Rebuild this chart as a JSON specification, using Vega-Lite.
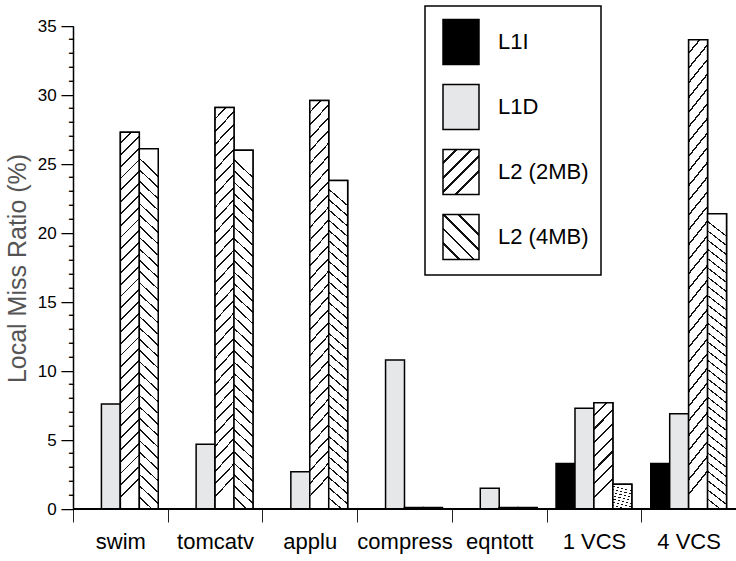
{
  "$schema": "https://vega.github.io/schema/vega-lite/v6.json",
  "width": 663,
  "height": 483,
  "autosize": {"type": "none"},
  "padding": {"left": 73, "top": 26, "right": 0, "bottom": 52},
  "background": "white",
  "config": {"view": {"stroke": null}, "font": "Liberation Sans"},
  "data": {
    "values": [
      {"benchmark": "swim", "series": "L1I", "ratio": 0},
      {"benchmark": "swim", "series": "L1D", "ratio": 7.6},
      {"benchmark": "swim", "series": "L2 (2MB)", "ratio": 27.3},
      {"benchmark": "swim", "series": "L2 (4MB)", "ratio": 26.1},
      {"benchmark": "tomcatv", "series": "L1I", "ratio": 0},
      {"benchmark": "tomcatv", "series": "L1D", "ratio": 4.7},
      {"benchmark": "tomcatv", "series": "L2 (2MB)", "ratio": 29.1},
      {"benchmark": "tomcatv", "series": "L2 (4MB)", "ratio": 26.0},
      {"benchmark": "applu", "series": "L1I", "ratio": 0},
      {"benchmark": "applu", "series": "L1D", "ratio": 2.7},
      {"benchmark": "applu", "series": "L2 (2MB)", "ratio": 29.6},
      {"benchmark": "applu", "series": "L2 (4MB)", "ratio": 23.8},
      {"benchmark": "compress", "series": "L1I", "ratio": 0},
      {"benchmark": "compress", "series": "L1D", "ratio": 10.8},
      {"benchmark": "compress", "series": "L2 (2MB)", "ratio": 0.1},
      {"benchmark": "compress", "series": "L2 (4MB)", "ratio": 0.1},
      {"benchmark": "eqntott", "series": "L1I", "ratio": 0},
      {"benchmark": "eqntott", "series": "L1D", "ratio": 1.5},
      {"benchmark": "eqntott", "series": "L2 (2MB)", "ratio": 0.1},
      {"benchmark": "eqntott", "series": "L2 (4MB)", "ratio": 0.1},
      {"benchmark": "1 VCS", "series": "L1I", "ratio": 3.3},
      {"benchmark": "1 VCS", "series": "L1D", "ratio": 7.3},
      {"benchmark": "1 VCS", "series": "L2 (2MB)", "ratio": 7.7},
      {"benchmark": "1 VCS", "series": "L2 (4MB)", "ratio": 1.8},
      {"benchmark": "4 VCS", "series": "L1I", "ratio": 3.3},
      {"benchmark": "4 VCS", "series": "L1D", "ratio": 6.9},
      {"benchmark": "4 VCS", "series": "L2 (2MB)", "ratio": 34.0},
      {"benchmark": "4 VCS", "series": "L2 (4MB)", "ratio": 21.4}
    ]
  },
  "encoding": {
    "x": {
      "field": "benchmark", "type": "nominal",
      "sort": ["swim", "tomcatv", "applu", "compress", "eqntott", "1 VCS", "4 VCS"],
      "scale": {"paddingInner": 0, "paddingOuter": 0},
      "axis": {
        "title": null, "tickBand": "extent", "domain": false,
        "tickSize": 13, "tickColor": "#222", "tickWidth": 1,
        "labelFont": "Liberation Sans", "labelFontSize": 22,
        "labelColor": "black", "labelPadding": 9, "labelAngle": 0
      }
    },
    "xOffset": {
      "field": "series", "type": "nominal",
      "sort": ["L1I", "L1D", "L2 (2MB)", "L2 (4MB)"],
      "scale": {"domain": ["L1I", "L1D", "L2 (2MB)", "L2 (4MB)"], "paddingInner": 0, "paddingOuter": 0.5}
    },
    "y": {
      "field": "ratio", "type": "quantitative",
      "scale": {"domain": [0, 35], "nice": false},
      "axis": {
        "orient": "left",
        "values": [0, 1, 2, 3, 4, 5, 6, 7, 8, 9, 10, 11, 12, 13, 14, 15, 16, 17, 18, 19, 20, 21, 22, 23, 24, 25, 26, 27, 28, 29, 30, 31, 32, 33, 34, 35],
        "labelExpr": "datum.value % 5 === 0 ? datum.label + ' ─' : '━'",
        "labelOverlap": false, "labelBound": false, "labelFlush": false,
        "ticks": false, "tickSize": 0,
        "grid": false, "domainColor": "black", "domainWidth": 1.5,
        "labelFont": "Liberation Sans",
        "labelFontSize": {"condition": {"test": "datum.value % 5 === 0", "value": 17}, "value": 8},
        "labelColor": "black", "labelPadding": 0, "labelAlign": "right", "labelBaseline": "middle",
        "title": "Local Miss Ratio (%)",
        "titleFont": "Liberation Sans", "titleFontSize": 25,
        "titleFontWeight": "normal", "titleColor": "#555555",
        "titleX": -48, "titleY": 242, "titleAngle": -90,
        "titleAlign": "center", "titleBaseline": "alphabetic"
      }
    }
  },
  "layer": [
    {
      "mark": {"type": "bar", "stroke": "black", "strokeWidth": 1.5},
      "encoding": {
        "fill": {
          "field": "series", "type": "nominal",
          "scale": {
            "domain": ["L1I", "L1D", "L2 (2MB)", "L2 (4MB)"],
            "range": [
              "#000000",
              "#e6e7e9",
              {"expr": "{gradient: 'linear', x1: 0, y1: 0, x2: 0.8, y2: 1, stops: [{offset: 0, color: '#fff'}, {offset: 0.16, color: '#fff'}, {offset: 0.16, color: '#111'}, {offset: 0.2, color: '#111'}, {offset: 0.2, color: '#fff'}, {offset: 0.36, color: '#fff'}, {offset: 0.36, color: '#111'}, {offset: 0.4, color: '#111'}, {offset: 0.4, color: '#fff'}, {offset: 0.56, color: '#fff'}, {offset: 0.56, color: '#111'}, {offset: 0.6, color: '#111'}, {offset: 0.6, color: '#fff'}, {offset: 0.76, color: '#fff'}, {offset: 0.76, color: '#111'}, {offset: 0.8, color: '#111'}, {offset: 0.8, color: '#fff'}, {offset: 1, color: '#fff'}]}"},
              {"expr": "{gradient: 'linear', x1: 0.8, y1: 0, x2: 0, y2: 1, stops: [{offset: 0, color: '#fff'}, {offset: 0.16, color: '#fff'}, {offset: 0.16, color: '#111'}, {offset: 0.2, color: '#111'}, {offset: 0.2, color: '#fff'}, {offset: 0.36, color: '#fff'}, {offset: 0.36, color: '#111'}, {offset: 0.4, color: '#111'}, {offset: 0.4, color: '#fff'}, {offset: 0.56, color: '#fff'}, {offset: 0.56, color: '#111'}, {offset: 0.6, color: '#111'}, {offset: 0.6, color: '#fff'}, {offset: 0.76, color: '#fff'}, {offset: 0.76, color: '#111'}, {offset: 0.8, color: '#111'}, {offset: 0.8, color: '#fff'}, {offset: 1, color: '#fff'}]}"}
            ]
          },
          "legend": {
            "title": null, "orient": "none", "legendX": 352, "legendY": -20,
            "padding": 12.5, "rowPadding": 14,
            "symbolType": "M-0.8,-1L0.8,-1L0.8,1L-0.8,1Z", "symbolSize": 2025,
            "symbolStrokeColor": "black", "symbolStrokeWidth": 1.5, "symbolOpacity": 1,
            "labelOffset": 13.5, "labelFont": "Liberation Sans", "labelFontSize": 22,
            "labelColor": "black", "labelLimit": 300, "strokeColor": "black",
            "encode": {
              "legend": {"update": {"stroke": {"value": "black"}, "strokeWidth": {"value": 1.5}}}
            }
          }
        }
      }
    },
    {
      "transform": [{"filter": "datum.series === 'L2 (2MB)' && datum.ratio >= 15"}],
      "mark": {"type": "bar", "stroke": "black", "strokeWidth": 1.5, "fill": {"gradient": "linear", "x1": 0, "y1": 0, "x2": 0.05, "y2": 1, "stops": [
        {"offset": 0, "color": "#fff"}, {"offset": 0.0265, "color": "#fff"}, {"offset": 0.0265, "color": "#111"}, {"offset": 0.03125, "color": "#111"},
        {"offset": 0.03125, "color": "#fff"}, {"offset": 0.05775, "color": "#fff"}, {"offset": 0.05775, "color": "#111"}, {"offset": 0.0625, "color": "#111"},
        {"offset": 0.0625, "color": "#fff"}, {"offset": 0.089, "color": "#fff"}, {"offset": 0.089, "color": "#111"}, {"offset": 0.09375, "color": "#111"},
        {"offset": 0.09375, "color": "#fff"}, {"offset": 0.12025, "color": "#fff"}, {"offset": 0.12025, "color": "#111"}, {"offset": 0.125, "color": "#111"},
        {"offset": 0.125, "color": "#fff"}, {"offset": 0.1515, "color": "#fff"}, {"offset": 0.1515, "color": "#111"}, {"offset": 0.15625, "color": "#111"},
        {"offset": 0.15625, "color": "#fff"}, {"offset": 0.18275, "color": "#fff"}, {"offset": 0.18275, "color": "#111"}, {"offset": 0.1875, "color": "#111"},
        {"offset": 0.1875, "color": "#fff"}, {"offset": 0.214, "color": "#fff"}, {"offset": 0.214, "color": "#111"}, {"offset": 0.21875, "color": "#111"},
        {"offset": 0.21875, "color": "#fff"}, {"offset": 0.24525, "color": "#fff"}, {"offset": 0.24525, "color": "#111"}, {"offset": 0.25, "color": "#111"},
        {"offset": 0.25, "color": "#fff"}, {"offset": 0.2765, "color": "#fff"}, {"offset": 0.2765, "color": "#111"}, {"offset": 0.28125, "color": "#111"},
        {"offset": 0.28125, "color": "#fff"}, {"offset": 0.30775, "color": "#fff"}, {"offset": 0.30775, "color": "#111"}, {"offset": 0.3125, "color": "#111"},
        {"offset": 0.3125, "color": "#fff"}, {"offset": 0.339, "color": "#fff"}, {"offset": 0.339, "color": "#111"}, {"offset": 0.34375, "color": "#111"},
        {"offset": 0.34375, "color": "#fff"}, {"offset": 0.37025, "color": "#fff"}, {"offset": 0.37025, "color": "#111"}, {"offset": 0.375, "color": "#111"},
        {"offset": 0.375, "color": "#fff"}, {"offset": 0.4015, "color": "#fff"}, {"offset": 0.4015, "color": "#111"}, {"offset": 0.40625, "color": "#111"},
        {"offset": 0.40625, "color": "#fff"}, {"offset": 0.43275, "color": "#fff"}, {"offset": 0.43275, "color": "#111"}, {"offset": 0.4375, "color": "#111"},
        {"offset": 0.4375, "color": "#fff"}, {"offset": 0.464, "color": "#fff"}, {"offset": 0.464, "color": "#111"}, {"offset": 0.46875, "color": "#111"},
        {"offset": 0.46875, "color": "#fff"}, {"offset": 0.49525, "color": "#fff"}, {"offset": 0.49525, "color": "#111"}, {"offset": 0.5, "color": "#111"},
        {"offset": 0.5, "color": "#fff"}, {"offset": 0.5265, "color": "#fff"}, {"offset": 0.5265, "color": "#111"}, {"offset": 0.53125, "color": "#111"},
        {"offset": 0.53125, "color": "#fff"}, {"offset": 0.55775, "color": "#fff"}, {"offset": 0.55775, "color": "#111"}, {"offset": 0.5625, "color": "#111"},
        {"offset": 0.5625, "color": "#fff"}, {"offset": 0.589, "color": "#fff"}, {"offset": 0.589, "color": "#111"}, {"offset": 0.59375, "color": "#111"},
        {"offset": 0.59375, "color": "#fff"}, {"offset": 0.62025, "color": "#fff"}, {"offset": 0.62025, "color": "#111"}, {"offset": 0.625, "color": "#111"},
        {"offset": 0.625, "color": "#fff"}, {"offset": 0.6515, "color": "#fff"}, {"offset": 0.6515, "color": "#111"}, {"offset": 0.65625, "color": "#111"},
        {"offset": 0.65625, "color": "#fff"}, {"offset": 0.68275, "color": "#fff"}, {"offset": 0.68275, "color": "#111"}, {"offset": 0.6875, "color": "#111"},
        {"offset": 0.6875, "color": "#fff"}, {"offset": 0.714, "color": "#fff"}, {"offset": 0.714, "color": "#111"}, {"offset": 0.71875, "color": "#111"},
        {"offset": 0.71875, "color": "#fff"}, {"offset": 0.74525, "color": "#fff"}, {"offset": 0.74525, "color": "#111"}, {"offset": 0.75, "color": "#111"},
        {"offset": 0.75, "color": "#fff"}, {"offset": 0.7765, "color": "#fff"}, {"offset": 0.7765, "color": "#111"}, {"offset": 0.78125, "color": "#111"},
        {"offset": 0.78125, "color": "#fff"}, {"offset": 0.80775, "color": "#fff"}, {"offset": 0.80775, "color": "#111"}, {"offset": 0.8125, "color": "#111"},
        {"offset": 0.8125, "color": "#fff"}, {"offset": 0.839, "color": "#fff"}, {"offset": 0.839, "color": "#111"}, {"offset": 0.84375, "color": "#111"},
        {"offset": 0.84375, "color": "#fff"}, {"offset": 0.87025, "color": "#fff"}, {"offset": 0.87025, "color": "#111"}, {"offset": 0.875, "color": "#111"},
        {"offset": 0.875, "color": "#fff"}, {"offset": 0.9015, "color": "#fff"}, {"offset": 0.9015, "color": "#111"}, {"offset": 0.90625, "color": "#111"},
        {"offset": 0.90625, "color": "#fff"}, {"offset": 0.93275, "color": "#fff"}, {"offset": 0.93275, "color": "#111"}, {"offset": 0.9375, "color": "#111"},
        {"offset": 0.9375, "color": "#fff"}, {"offset": 0.964, "color": "#fff"}, {"offset": 0.964, "color": "#111"}, {"offset": 0.96875, "color": "#111"},
        {"offset": 0.96875, "color": "#fff"}, {"offset": 1, "color": "#fff"}
      ]}},
      "encoding": {}
    },
    {
      "transform": [{"filter": "datum.series === 'L2 (4MB)' && datum.ratio >= 15"}],
      "mark": {"type": "bar", "stroke": "black", "strokeWidth": 1.5, "fill": {"gradient": "linear", "x1": 0.05, "y1": 0, "x2": 0, "y2": 1, "stops": [
        {"offset": 0, "color": "#fff"}, {"offset": 0.0265, "color": "#fff"}, {"offset": 0.0265, "color": "#111"}, {"offset": 0.03125, "color": "#111"},
        {"offset": 0.03125, "color": "#fff"}, {"offset": 0.05775, "color": "#fff"}, {"offset": 0.05775, "color": "#111"}, {"offset": 0.0625, "color": "#111"},
        {"offset": 0.0625, "color": "#fff"}, {"offset": 0.089, "color": "#fff"}, {"offset": 0.089, "color": "#111"}, {"offset": 0.09375, "color": "#111"},
        {"offset": 0.09375, "color": "#fff"}, {"offset": 0.12025, "color": "#fff"}, {"offset": 0.12025, "color": "#111"}, {"offset": 0.125, "color": "#111"},
        {"offset": 0.125, "color": "#fff"}, {"offset": 0.1515, "color": "#fff"}, {"offset": 0.1515, "color": "#111"}, {"offset": 0.15625, "color": "#111"},
        {"offset": 0.15625, "color": "#fff"}, {"offset": 0.18275, "color": "#fff"}, {"offset": 0.18275, "color": "#111"}, {"offset": 0.1875, "color": "#111"},
        {"offset": 0.1875, "color": "#fff"}, {"offset": 0.214, "color": "#fff"}, {"offset": 0.214, "color": "#111"}, {"offset": 0.21875, "color": "#111"},
        {"offset": 0.21875, "color": "#fff"}, {"offset": 0.24525, "color": "#fff"}, {"offset": 0.24525, "color": "#111"}, {"offset": 0.25, "color": "#111"},
        {"offset": 0.25, "color": "#fff"}, {"offset": 0.2765, "color": "#fff"}, {"offset": 0.2765, "color": "#111"}, {"offset": 0.28125, "color": "#111"},
        {"offset": 0.28125, "color": "#fff"}, {"offset": 0.30775, "color": "#fff"}, {"offset": 0.30775, "color": "#111"}, {"offset": 0.3125, "color": "#111"},
        {"offset": 0.3125, "color": "#fff"}, {"offset": 0.339, "color": "#fff"}, {"offset": 0.339, "color": "#111"}, {"offset": 0.34375, "color": "#111"},
        {"offset": 0.34375, "color": "#fff"}, {"offset": 0.37025, "color": "#fff"}, {"offset": 0.37025, "color": "#111"}, {"offset": 0.375, "color": "#111"},
        {"offset": 0.375, "color": "#fff"}, {"offset": 0.4015, "color": "#fff"}, {"offset": 0.4015, "color": "#111"}, {"offset": 0.40625, "color": "#111"},
        {"offset": 0.40625, "color": "#fff"}, {"offset": 0.43275, "color": "#fff"}, {"offset": 0.43275, "color": "#111"}, {"offset": 0.4375, "color": "#111"},
        {"offset": 0.4375, "color": "#fff"}, {"offset": 0.464, "color": "#fff"}, {"offset": 0.464, "color": "#111"}, {"offset": 0.46875, "color": "#111"},
        {"offset": 0.46875, "color": "#fff"}, {"offset": 0.49525, "color": "#fff"}, {"offset": 0.49525, "color": "#111"}, {"offset": 0.5, "color": "#111"},
        {"offset": 0.5, "color": "#fff"}, {"offset": 0.5265, "color": "#fff"}, {"offset": 0.5265, "color": "#111"}, {"offset": 0.53125, "color": "#111"},
        {"offset": 0.53125, "color": "#fff"}, {"offset": 0.55775, "color": "#fff"}, {"offset": 0.55775, "color": "#111"}, {"offset": 0.5625, "color": "#111"},
        {"offset": 0.5625, "color": "#fff"}, {"offset": 0.589, "color": "#fff"}, {"offset": 0.589, "color": "#111"}, {"offset": 0.59375, "color": "#111"},
        {"offset": 0.59375, "color": "#fff"}, {"offset": 0.62025, "color": "#fff"}, {"offset": 0.62025, "color": "#111"}, {"offset": 0.625, "color": "#111"},
        {"offset": 0.625, "color": "#fff"}, {"offset": 0.6515, "color": "#fff"}, {"offset": 0.6515, "color": "#111"}, {"offset": 0.65625, "color": "#111"},
        {"offset": 0.65625, "color": "#fff"}, {"offset": 0.68275, "color": "#fff"}, {"offset": 0.68275, "color": "#111"}, {"offset": 0.6875, "color": "#111"},
        {"offset": 0.6875, "color": "#fff"}, {"offset": 0.714, "color": "#fff"}, {"offset": 0.714, "color": "#111"}, {"offset": 0.71875, "color": "#111"},
        {"offset": 0.71875, "color": "#fff"}, {"offset": 0.74525, "color": "#fff"}, {"offset": 0.74525, "color": "#111"}, {"offset": 0.75, "color": "#111"},
        {"offset": 0.75, "color": "#fff"}, {"offset": 0.7765, "color": "#fff"}, {"offset": 0.7765, "color": "#111"}, {"offset": 0.78125, "color": "#111"},
        {"offset": 0.78125, "color": "#fff"}, {"offset": 0.80775, "color": "#fff"}, {"offset": 0.80775, "color": "#111"}, {"offset": 0.8125, "color": "#111"},
        {"offset": 0.8125, "color": "#fff"}, {"offset": 0.839, "color": "#fff"}, {"offset": 0.839, "color": "#111"}, {"offset": 0.84375, "color": "#111"},
        {"offset": 0.84375, "color": "#fff"}, {"offset": 0.87025, "color": "#fff"}, {"offset": 0.87025, "color": "#111"}, {"offset": 0.875, "color": "#111"},
        {"offset": 0.875, "color": "#fff"}, {"offset": 0.9015, "color": "#fff"}, {"offset": 0.9015, "color": "#111"}, {"offset": 0.90625, "color": "#111"},
        {"offset": 0.90625, "color": "#fff"}, {"offset": 0.93275, "color": "#fff"}, {"offset": 0.93275, "color": "#111"}, {"offset": 0.9375, "color": "#111"},
        {"offset": 0.9375, "color": "#fff"}, {"offset": 0.964, "color": "#fff"}, {"offset": 0.964, "color": "#111"}, {"offset": 0.96875, "color": "#111"},
        {"offset": 0.96875, "color": "#fff"}, {"offset": 1, "color": "#fff"}
      ]}},
      "encoding": {}
    },
    {
      "transform": [{"filter": "datum.series === 'L2 (2MB)' && datum.ratio < 15"}],
      "mark": {"type": "bar", "stroke": "black", "strokeWidth": 1.5, "fill": {"gradient": "linear", "x1": 0, "y1": 0, "x2": 0.18, "y2": 1, "stops": [
        {"offset": 0, "color": "#fff"}, {"offset": 0.105, "color": "#fff"}, {"offset": 0.105, "color": "#111"}, {"offset": 0.125, "color": "#111"},
        {"offset": 0.125, "color": "#fff"}, {"offset": 0.23, "color": "#fff"}, {"offset": 0.23, "color": "#111"}, {"offset": 0.25, "color": "#111"},
        {"offset": 0.25, "color": "#fff"}, {"offset": 0.355, "color": "#fff"}, {"offset": 0.355, "color": "#111"}, {"offset": 0.375, "color": "#111"},
        {"offset": 0.375, "color": "#fff"}, {"offset": 0.48, "color": "#fff"}, {"offset": 0.48, "color": "#111"}, {"offset": 0.5, "color": "#111"},
        {"offset": 0.5, "color": "#fff"}, {"offset": 0.605, "color": "#fff"}, {"offset": 0.605, "color": "#111"}, {"offset": 0.625, "color": "#111"},
        {"offset": 0.625, "color": "#fff"}, {"offset": 0.73, "color": "#fff"}, {"offset": 0.73, "color": "#111"}, {"offset": 0.75, "color": "#111"},
        {"offset": 0.75, "color": "#fff"}, {"offset": 0.855, "color": "#fff"}, {"offset": 0.855, "color": "#111"}, {"offset": 0.875, "color": "#111"},
        {"offset": 0.875, "color": "#fff"}, {"offset": 1, "color": "#fff"}
      ]}},
      "encoding": {}
    },
    {
      "transform": [{"filter": "datum.series === 'L2 (4MB)' && datum.ratio < 15"}],
      "mark": {"type": "bar", "stroke": "black", "strokeWidth": 1.5, "fill": {"gradient": "linear", "x1": 0.18, "y1": 0, "x2": 0, "y2": 1, "stops": [
        {"offset": 0, "color": "#fff"}, {"offset": 0.105, "color": "#fff"}, {"offset": 0.105, "color": "#111"}, {"offset": 0.125, "color": "#111"},
        {"offset": 0.125, "color": "#fff"}, {"offset": 0.23, "color": "#fff"}, {"offset": 0.23, "color": "#111"}, {"offset": 0.25, "color": "#111"},
        {"offset": 0.25, "color": "#fff"}, {"offset": 0.355, "color": "#fff"}, {"offset": 0.355, "color": "#111"}, {"offset": 0.375, "color": "#111"},
        {"offset": 0.375, "color": "#fff"}, {"offset": 0.48, "color": "#fff"}, {"offset": 0.48, "color": "#111"}, {"offset": 0.5, "color": "#111"},
        {"offset": 0.5, "color": "#fff"}, {"offset": 0.605, "color": "#fff"}, {"offset": 0.605, "color": "#111"}, {"offset": 0.625, "color": "#111"},
        {"offset": 0.625, "color": "#fff"}, {"offset": 0.73, "color": "#fff"}, {"offset": 0.73, "color": "#111"}, {"offset": 0.75, "color": "#111"},
        {"offset": 0.75, "color": "#fff"}, {"offset": 0.855, "color": "#fff"}, {"offset": 0.855, "color": "#111"}, {"offset": 0.875, "color": "#111"},
        {"offset": 0.875, "color": "#fff"}, {"offset": 1, "color": "#fff"}
      ]}},
      "encoding": {}
    },
    {
      "mark": {"type": "rule", "stroke": "black", "strokeWidth": 2},
      "encoding": {"x": null, "xOffset": null, "y": {"datum": 0}}
    }
  ]
}
